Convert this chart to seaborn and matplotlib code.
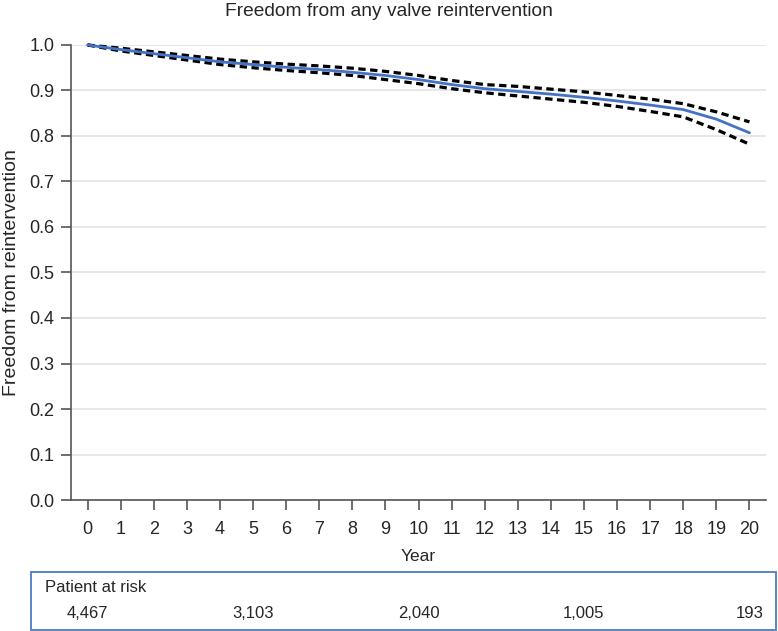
import numpy as np
import pandas as pd
import matplotlib
matplotlib.use('Agg')
import matplotlib.pyplot as plt
import matplotlib.transforms as mtransforms
from matplotlib.patches import Rectangle
import seaborn as sns

# Kaplan-Meier estimate with 95% CI
years = list(range(0, 21))
survival = [1.000, 0.990, 0.981, 0.972, 0.963, 0.957, 0.951, 0.946, 0.940, 0.933, 0.924,
            0.913, 0.904, 0.898, 0.892, 0.885, 0.877, 0.868, 0.858, 0.837, 0.807]
upper_ci = [1.000, 0.993, 0.985, 0.977, 0.969, 0.963, 0.958, 0.954, 0.949, 0.942, 0.933,
            0.922, 0.913, 0.909, 0.903, 0.897, 0.889, 0.881, 0.871, 0.853, 0.831]
lower_ci = [1.000, 0.987, 0.977, 0.967, 0.957, 0.950, 0.944, 0.939, 0.933, 0.924, 0.915,
            0.904, 0.895, 0.888, 0.881, 0.874, 0.865, 0.854, 0.842, 0.814, 0.782]

risk_years = [0, 5, 10, 15, 20]
risk_labels = ['4,467', '3,103', '2,040', '1,005', '193']

y_ticks = [round(0.1 * i, 1) for i in range(11)]

df = pd.DataFrame({'Year': years, 'surv': survival, 'upper': upper_ci, 'lower': lower_ci})

sns.set_style('white')
plt.rcParams['font.family'] = ['Liberation Sans', 'DejaVu Sans']

fig = plt.figure(figsize=(7.78, 6.31), dpi=100)
ax = fig.add_axes([0.0913, 0.2076, 0.8933, 0.7211])

for col in ['upper', 'lower']:
    sns.lineplot(data=df, x='Year', y=col, ax=ax, color='black', lw=2.3,
                 linestyle=(0, (2.3, 1.4)), clip_on=False)
sns.lineplot(data=df, x='Year', y='surv', ax=ax, color='#4472C4', lw=2.0, clip_on=False)

ax.set_xlim(-0.5, 20.5)
ax.set_ylim(0, 1.0)
ax.set_xticks(years)
ax.set_yticks(y_ticks)
ax.set_yticklabels([f'{v:.1f}' for v in y_ticks])
ax.yaxis.grid(True, color='#e3e3e3', lw=1.2)
ax.xaxis.grid(False)
for s in ['top', 'right']:
    ax.spines[s].set_visible(False)
for s in ['left', 'bottom']:
    ax.spines[s].set_color('#555555')
    ax.spines[s].set_linewidth(1.2)
ax.tick_params(axis='x', length=7, width=1.2, color='#555555', labelsize=13, pad=8)
ax.tick_params(axis='y', length=7, width=1.2, color='#555555', labelsize=13, pad=5)
ax.tick_params(bottom=True, left=True)

ax.set_xlabel('Year', fontsize=12.5, labelpad=8)
ax.set_ylabel('Freedom from reintervention', fontsize=14, labelpad=7)
fig.text(0.5, 0.981, 'Freedom from any valve reintervention', ha='center', va='center', fontsize=13.8)

# patients at risk box
fig.patches.append(Rectangle((31 / 778, 1 / 631), 745 / 778, 58 / 631, transform=fig.transFigure,
                             fill=False, edgecolor='#4a7cc4', lw=1.3))
fig.text(45 / 778, 1 - 588 / 631, 'Patient at risk', ha='left', va='center', fontsize=12)
trans = mtransforms.blended_transform_factory(ax.transData, fig.transFigure)
for yr, lab in zip(risk_years, risk_labels):
    fig.text(yr, 1 - 613 / 631, lab, ha='center', va='center', fontsize=12, transform=trans)

fig.savefig('out.png', dpi=100)
